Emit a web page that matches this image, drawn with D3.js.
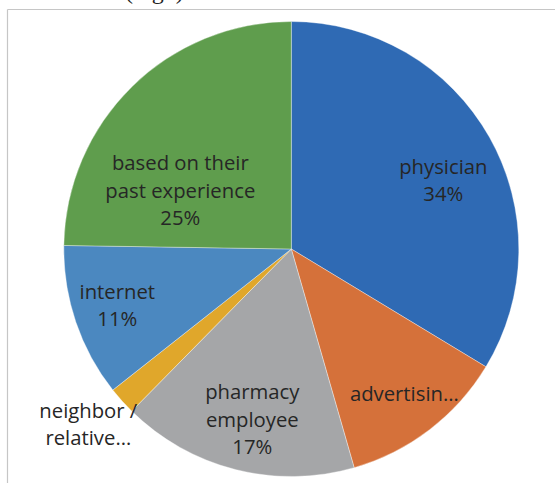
<!DOCTYPE html>
<html>
<head>
<meta charset="utf-8">
<script src="https://cdn.jsdelivr.net/npm/d3@7"></script>
<style>
  html, body { margin: 0; padding: 0; background: #fff; }
  svg { display: block; }
</style>
</head>
<body>
<svg id="chart" width="555" height="485"></svg>
<script>
// Sources of information, share of respondents (%)
const categories = ["physician", "advertising", "pharmacy employee", "neighbor / relative", "internet", "based on their past experience"];
const values = [34, 12, 17, 2, 11, 25];
// Wrapped label lines as drawn inside / beside each slice
const labelLines = [
  ["physician", "34%"],
  ["advertisin…"],
  ["pharmacy", "employee", "17%"],
  ["neighbor /", "relative…"],
  ["internet", "11%"],
  ["based on their", "past experience", "25%"]
];
const colors = ["#2F6AB4", "#D5713A", "#A5A6A8", "#E0A72B", "#4B88C0", "#5F9D4D"];

const svg = d3.select("#chart");
const W = 555, H = 485;
const cx = 291.3, cy = 249, R = 227.5;

// chart frame
svg.append("line").attr("x1", 7.5).attr("x2", W).attr("y1", 9.5).attr("y2", 9.5)
  .attr("stroke", "#C6C6C6").attr("stroke-width", 1.2);
svg.append("line").attr("x1", 7.5).attr("x2", 7.5).attr("y1", 9.5).attr("y2", 483)
  .attr("stroke", "#C6C6C6").attr("stroke-width", 1.2);

// heading above the frame, mostly out of view
svg.append("text").attr("x", 125).attr("y", -1.5)
  .attr("font-family", "Liberation Serif").attr("font-size", 24).attr("fill", "#222")
  .text("(high)");

const pie = d3.pie().sort(null).value(d => d)
  .startAngle(0).endAngle(2 * Math.PI);
const arcs = pie(values);
const arc = d3.arc().innerRadius(0).outerRadius(R);

const g = svg.append("g").attr("transform", `translate(${cx},${cy})`);
g.selectAll("path.slice").data(arcs).join("path")
  .attr("class", "slice")
  .attr("d", arc)
  .attr("fill", (d, i) => colors[i])
  .attr("stroke", "rgba(255,255,255,0.45)")
  .attr("stroke-width", 0.8);

// label block centres relative to the pie centre
const labelPos = [[152, -69], [113, 144], [-39, 170], [-203, 175], [-174, 56], [-111, -59]];
const lineH = 27.5;

arcs.forEach((d, i) => {
  const [x, y] = labelPos[i];
  const lines = labelLines[i];
  const t = g.append("text")
    .attr("text-anchor", "middle")
    .attr("font-family", "'Open Sans', sans-serif")
    .attr("font-size", 20.3)
    .attr("fill", "#262626");
  lines.forEach((s, k) => {
    t.append("tspan").attr("x", x)
      .attr("y", y + (k - (lines.length - 1) / 2) * lineH + 7.5)
      .text(s);
  });
});
</script>
</body>
</html>
